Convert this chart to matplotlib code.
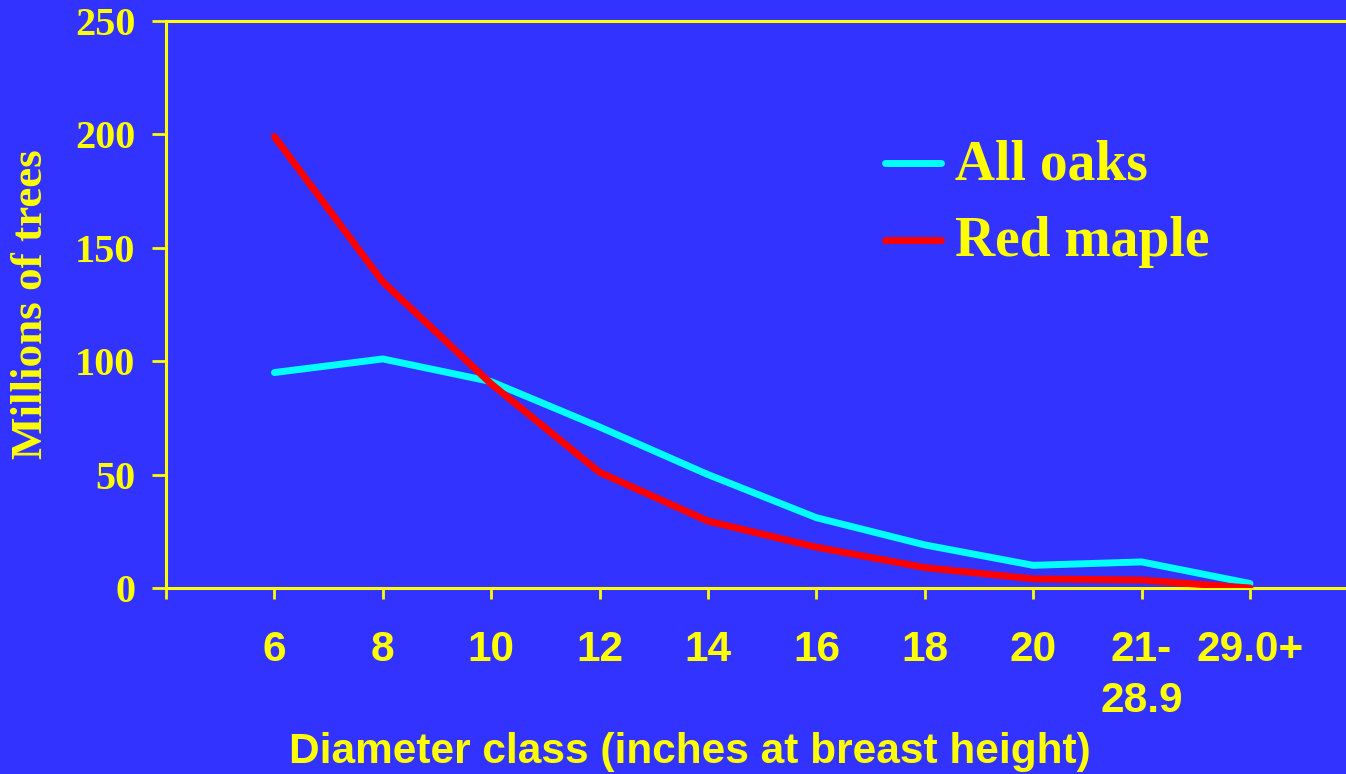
import matplotlib
matplotlib.use("Agg")
import matplotlib.pyplot as plt
from matplotlib.lines import Line2D

categories = ["6", "8", "10", "12", "14", "16", "18", "20", "21-\n28.9", "29.0+"]
oaks = [95, 101, 91, 71, 50, 31, 19, 10, 11.5, 2]
red_maple = [199, 135, 90, 51, 29.5, 18, 9, 4, 3.5, 0]
y_ticks = [0, 50, 100, 150, 200, 250]
series_names = ["All oaks", "Red maple"]
series_colors = ["#00FFFF", "#FF0000"]

BG = "#3333FF"
YEL = "#FFFF00"
W, H = 1346, 774

fig = plt.figure(figsize=(W / 100, H / 100), dpi=100, facecolor=BG)
left, right, top, bottom = 166, 1346, 21, 588
ax = fig.add_axes([left / W, 1 - bottom / H, (right - left) / W, (bottom - top) / H])
ax.set_facecolor(BG)

x = list(range(1, len(categories) + 1))
ax.plot(x, oaks, color=series_colors[0], lw=5, solid_capstyle="round", solid_joinstyle="round", zorder=3)
ax.plot(x, red_maple, color=series_colors[1], lw=5, solid_capstyle="round", solid_joinstyle="round", zorder=4)

step = 108.4
ax.set_xlim(0, (right - left) / step)
ax.set_ylim(0, 250)

ax.set_xticks([0] + x)
ax.set_xticklabels([""] + categories, fontfamily="Liberation Sans", fontweight="bold",
                   fontsize=30.5, color=YEL, linespacing=1.35, va="top")
ax.set_yticks(y_ticks)
ax.set_yticklabels([str(v) for v in y_ticks], fontfamily="Liberation Serif",
                   fontweight="bold", fontsize=29, color=YEL)

ax.tick_params(axis="x", direction="out", length=8, width=2, color=YEL, pad=22)
ax.tick_params(axis="y", direction="out", length=10, width=2, color=YEL, pad=12)

for s in ["left", "bottom", "top"]:
    ax.spines[s].set_color(YEL)
    ax.spines[s].set_linewidth(2.2)
ax.spines["right"].set_visible(False)

fig.text(690 / W, 1 - 752 / H, "Diameter class (inches at breast height)", ha="center", va="center",
         fontfamily="Liberation Sans", fontweight="bold", fontsize=30.5, color=YEL)
fig.text(31 / W, 1 - 304 / H, "Millions of trees", ha="center", va="center", rotation=90,
         fontfamily="Liberation Serif", fontweight="bold", fontsize=32.5, color=YEL)

# legend drawn manually at reference position
leg_y = [163, 240]
for name, col, yy in zip(series_names, series_colors, leg_y):
    fig.add_artist(Line2D([885 / W, 941 / W], [1 - yy / H, 1 - yy / H], color=col, lw=5,
                          solid_capstyle="round", transform=fig.transFigure))
    fig.text(955 / W, 1 - (yy + 2) / H, name, ha="left", va="center",
             fontfamily="Liberation Serif", fontweight="bold", fontsize=40, color=YEL)

fig.savefig("out.png", dpi=100, facecolor=BG)
